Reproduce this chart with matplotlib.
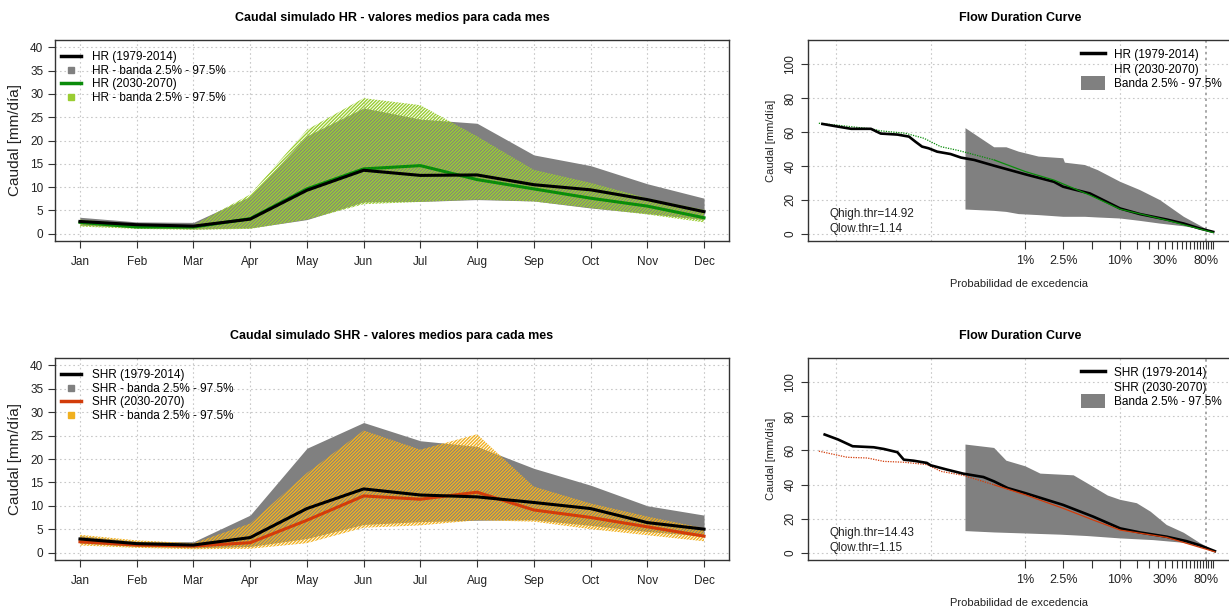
import matplotlib
matplotlib.use("Agg")
import matplotlib.pyplot as plt
from matplotlib.lines import Line2D
from matplotlib.patches import Patch
import numpy as np

plt.rcParams['font.family'] = ['Liberation Sans', 'DejaVu Sans']
plt.rcParams['hatch.linewidth'] = 1.0

# ---------------- data ----------------
months = ["Jan", "Feb", "Mar", "Apr", "May", "Jun", "Jul", "Aug", "Sep", "Oct", "Nov", "Dec"]

hr_hist = [2.6, 1.9, 1.6, 3.1, 9.3, 13.6, 12.5, 12.6, 10.5, 9.4, 7.3, 4.7]
hr_hist_lo = [1.8, 1.3, 1.0, 1.2, 3.0, 6.8, 6.9, 7.3, 7.0, 5.5, 4.3, 3.0]
hr_hist_hi = [3.5, 2.5, 2.4, 8.0, 21.0, 27.0, 24.6, 23.7, 16.9, 14.6, 10.7, 7.6]
hr_fut = [2.4, 1.4, 1.4, 3.2, 9.6, 13.9, 14.6, 11.6, 9.6, 7.6, 5.9, 3.4]
hr_fut_lo = [1.5, 1.0, 0.8, 1.0, 3.0, 6.3, 6.8, 7.3, 6.9, 5.5, 4.1, 2.4]
hr_fut_hi = [3.0, 2.0, 1.8, 8.4, 22.3, 29.1, 27.6, 20.9, 13.7, 10.9, 7.6, 5.1]

shr_hist = [2.9, 1.9, 1.6, 3.2, 9.4, 13.6, 12.3, 11.9, 10.7, 9.4, 6.4, 5.0]
shr_hist_lo = [2.0, 1.3, 1.0, 1.3, 3.0, 6.0, 6.6, 6.9, 7.0, 5.8, 4.5, 3.5]
shr_hist_hi = [3.6, 2.4, 2.3, 8.0, 22.3, 27.8, 23.9, 22.7, 18.0, 14.4, 10.0, 8.0]
shr_fut = [2.3, 1.6, 1.4, 2.1, 6.9, 12.1, 11.4, 12.9, 9.1, 7.5, 5.5, 3.5]
shr_fut_lo = [1.5, 1.0, 0.7, 0.8, 2.0, 5.3, 5.8, 6.9, 6.6, 5.0, 3.7, 2.4]
shr_fut_hi = [3.8, 2.6, 2.0, 6.2, 17.0, 26.1, 22.0, 25.3, 14.1, 10.5, 7.7, 5.2]

# flow duration curves (exceedance probability, flow)
fdc_hr_hist_p = [7.2e-5, 1.05e-4, 1.45e-4, 2.34e-4, 2.97e-4, 4.45e-4, 5.9e-4, 6.9e-4, 8.1e-4,
                 9.5e-4, 1.17e-3, 1.62e-3, 2.09e-3, 2.88e-3, 4.68e-3, 0.01, 0.02, 0.025,
                 0.048, 0.1, 0.162, 0.31, 0.47, 0.69, 0.96]
fdc_hr_hist_q = [64.8, 63.2, 61.9, 61.9, 59.1, 58.5, 57.3, 54.3, 51.4, 50.4, 48.4, 47.0, 44.9,
                 43.5, 40.1, 35.0, 30.6, 27.7, 23.7, 14.8, 11.5, 8.3, 5.9, 3.0, 1.0]
fdc_hr_fut_p = [6.6e-5, 2.34e-4, 2.97e-4, 5.4e-4, 8.5e-4, 1.27e-3, 2.0e-3, 4.68e-3, 0.01,
                0.02, 0.048, 0.1, 0.31, 0.96]
fdc_hr_fut_q = [65.2, 61.9, 60.7, 59.3, 56.3, 51.4, 49.0, 43.5, 36.6, 31.6, 22.7, 14.4, 7.9, 0.6]
band_hr_p = [2.33e-3, 4.68e-3, 6.3e-3, 8.5e-3, 0.0138, 0.0251, 0.0261, 0.0425, 0.058,
             0.1, 0.162, 0.263, 0.47, 0.83, 0.96]
band_hr_hi = [62.3, 51.0, 51.0, 48.4, 45.5, 44.5, 41.9, 40.5, 37.5, 30.6, 25.7, 19.8, 9.9, 2.4, 1.0]
band_hr_lo = [14.2, 13.4, 12.8, 11.5, 10.9, 9.9, 9.9, 9.9, 9.5, 8.9, 7.5, 5.9, 4.3, 2.0, 1.0]

fdc_shr_hist_p = [7.6e-5, 1.05e-4, 1.5e-4, 2.5e-4, 3.2e-4, 4.45e-4, 5.2e-4, 6.6e-4, 9.1e-4,
                  1.0e-3, 1.5e-3, 2.2e-3, 3.6e-3, 4.68e-3, 6.5e-3, 0.01, 0.025, 0.052,
                  0.1, 0.162, 0.31, 0.5, 0.69, 1.0]
fdc_shr_hist_q = [69.4, 66.5, 62.5, 61.9, 60.9, 59.0, 54.6, 54.0, 52.7, 51.3, 48.7, 46.4, 44.4,
                  41.8, 37.9, 34.9, 28.0, 21.1, 14.2, 11.8, 9.3, 6.7, 4.3, 0.8]
fdc_shr_fut_p = [6.6e-5, 1.32e-4, 2.14e-4, 3.2e-4, 5.2e-4, 9.1e-4, 1.29e-3, 2.2e-3, 4.68e-3,
                 0.01, 0.025, 0.052, 0.1, 0.31, 1.0]
fdc_shr_fut_q = [59.6, 56.0, 55.6, 53.6, 53.1, 51.7, 47.7, 45.4, 39.8, 33.9, 26.0, 19.1, 13.2, 8.9, 0.4]
band_shr_p_hi = [2.33e-3, 4.68e-3, 6.3e-3, 0.01, 0.0144, 0.0323, 0.0447, 0.0741, 0.1,
                 0.15, 0.21, 0.31, 0.47, 0.69, 1.0]
band_shr_hi = [63.5, 61.5, 54.0, 50.7, 46.4, 45.4, 40.8, 33.5, 31.0, 29.0, 24.0, 16.2, 11.6, 5.7, 0.8]
band_shr_p_lo = [2.33e-3, 4.68e-3, 0.01, 0.0234, 0.0447, 0.1, 0.224, 0.47, 1.0]
band_shr_lo = [12.6, 11.8, 11.2, 10.5, 9.7, 8.3, 7.3, 5.7, 0.8]

fdc_ticks = [0.01, 0.025, 0.05, 0.1, 0.15, 0.2, 0.25, 0.3, 0.35, 0.4, 0.45, 0.5, 0.55, 0.6,
             0.65, 0.7, 0.75, 0.8, 0.85, 0.9, 0.95]
fdc_labels = {0.01: "1%", 0.025: "2.5%", 0.1: "10%", 0.3: "30%", 0.8: "80%"}

# ---------------- styles ----------------
GRAY = '#808080'
GREEN = '#0a8c0a'
LGREEN = '#9acd32'
RED = '#d23c0a'
ORANGE = '#f0b020'
GRIDC = '#c8c8c8'

W, H = 1229, 607
fig = plt.figure(figsize=(W / 100, H / 100), dpi=100)


def px_axes(l, r, t, b):
    return fig.add_axes([l / W, 1 - b / H, (r - l) / W, (b - t) / H])


def style_box(ax):
    for s in ax.spines.values():
        s.set_color('#333333')
        s.set_linewidth(1.0)
    ax.tick_params(direction='out', length=5, width=0.8, colors='#333333', labelsize=8.5,
                   labelcolor='#222222')


def monthly(ax, title, name, hist, hlo, hhi, fut, flo, fhi, lcol, bcol):
    x = np.arange(1, 13)
    ax.set_xlim(0.56, 12.44)
    ax.set_ylim(-1.6, 41.6)
    ax.set_yticks(range(0, 41, 5))
    ax.set_xticks(x)
    ax.set_xticklabels(months)
    for v in range(0, 41, 5):
        ax.axhline(v, color=GRIDC, lw=0.8, ls=(0, (1.5, 2.5)), zorder=0)
    for v in x:
        ax.axvline(v, color=GRIDC, lw=0.8, ls=(0, (1.5, 2.5)), zorder=0)
    ax.fill_between(x, hlo, hhi, color=GRAY, lw=0, zorder=1)
    ax.fill_between(x, flo, fhi, facecolor='none', edgecolor=bcol, hatch='//////////',
                    lw=0, zorder=2)
    ax.plot(x, hist, color='black', lw=2.2, zorder=4)
    ax.plot(x, fut, color=lcol, lw=2.2, zorder=3)
    style_box(ax)
    ax.tick_params(axis='x', pad=6)
    ax.set_ylabel("Caudal [mm/día]", fontsize=11, labelpad=6, color='#222222')
    ax.set_title(title, fontsize=9, fontweight='bold', pad=14, x=0.5)
    handles = [Line2D([], [], color='black', lw=2.5),
               Line2D([], [], color=GRAY, marker='s', ls='none', markersize=5),
               Line2D([], [], color=lcol, lw=2.5),
               Line2D([], [], color=bcol, marker='s', ls='none', markersize=5)]
    labels = [f"{name} (1979-2014)", f"{name} - banda 2.5% - 97.5%",
              f"{name} (2030-2070)", f"{name} - banda 2.5% - 97.5%"]
    ax.legend(handles, labels, loc='upper left', frameon=False, fontsize=8.5,
              handlelength=1.7, handletextpad=0.9, labelspacing=0.15,
              borderaxespad=0.1, bbox_to_anchor=(0.0, 0.975))


def fdc(ax, name, hp, hq, fp, fq, bph, bhi, bpl, blo, fcol, qh, ql):
    ax.set_xscale('log')
    ax.set_xlim(10 ** -4.295, 10 ** 0.17)
    ax.set_ylim(-4.4, 114.4)
    ax.set_yticks(range(0, 101, 20))
    ax.set_yticklabels([str(v) for v in range(0, 101, 20)], rotation=90, va='center')
    for v in range(0, 101, 20):
        ax.axhline(v, color=GRIDC, lw=0.8, ls=(0, (1.5, 2.5)), zorder=0)
    for v in [1e-4, 1e-3, 1e-2, 1e-1]:
        ax.axvline(v, color=GRIDC, lw=0.8, ls=(0, (1.5, 2.5)), zorder=0)
    ax.axvline(0.8, color='#999999', lw=1.2, ls=(0, (1.5, 2)), zorder=0)
    bp = np.concatenate([bph, bpl[::-1]])
    bq = np.concatenate([bhi, blo[::-1]])
    ax.fill(bp, bq, color=GRAY, lw=0, zorder=1)
    fp = np.asarray(fp)
    fq = np.asarray(fq)
    k = int(np.searchsorted(fp, 4e-3))
    ax.plot(fp[:k + 1], fq[:k + 1], color=fcol, lw=0.9, ls=(0, (1, 1)), zorder=2)
    ax.plot(fp[k:], fq[k:], color=fcol, lw=0.9, zorder=3)
    ax.plot(hp, hq, color='black', lw=1.9, zorder=2.5)
    ax.set_xticks(fdc_ticks)
    ax.set_xticklabels([fdc_labels.get(t, "") for t in fdc_ticks])
    ax.xaxis.set_minor_locator(matplotlib.ticker.NullLocator())
    style_box(ax)
    ax.tick_params(axis='x', length=6, pad=4, labelsize=9)
    ax.tick_params(axis='y', labelsize=8.5)
    ax.set_ylabel("Caudal [mm/día]", fontsize=8, labelpad=6, color='#222222')
    ax.set_xlabel("Probabilidad de excedencia", fontsize=8, labelpad=9, color='#222222')
    ax.set_title("Flow Duration Curve", fontsize=9, fontweight='bold', pad=14,
                 x=(1020 - 808) / 423)
    ax.text(0.05, 0.134, f"Qhigh.thr={qh}", transform=ax.transAxes, fontsize=8.5,
            color='#222222', va='center')
    ax.text(0.05, 0.06, f"Qlow.thr={ql}", transform=ax.transAxes, fontsize=8.5,
            color='#222222', va='center')
    handles = [Line2D([], [], color='black', lw=2.5),
               Line2D([], [], color='none', lw=0),
               Patch(facecolor=GRAY, edgecolor='none')]
    labels = [f"{name} (1979-2014)", f"{name} (2030-2070)", "Banda 2.5% - 97.5%"]
    ax.legend(handles, labels, loc='upper left', frameon=False, fontsize=8.5,
              handlelength=2.0, handleheight=1.4, handletextpad=0.8, labelspacing=0.05,
              borderaxespad=0.0, bbox_to_anchor=(0.635, 0.985))


ax1 = px_axes(55, 729, 40, 241)
monthly(ax1, "Caudal simulado HR - valores medios para cada mes", "HR",
        hr_hist, hr_hist_lo, hr_hist_hi, hr_fut, hr_fut_lo, hr_fut_hi, GREEN, LGREEN)
ax2 = px_axes(55, 729, 358, 560)
monthly(ax2, "Caudal simulado SHR - valores medios para cada mes", "SHR",
        shr_hist, shr_hist_lo, shr_hist_hi, shr_fut, shr_fut_lo, shr_fut_hi, RED, ORANGE)
ax3 = px_axes(808, 1231, 40, 241)
fdc(ax3, "HR", fdc_hr_hist_p, fdc_hr_hist_q, fdc_hr_fut_p, fdc_hr_fut_q,
    band_hr_p, band_hr_hi, band_hr_p, band_hr_lo, GREEN, "14.92", "1.14")
ax4 = px_axes(808, 1231, 358, 560)
fdc(ax4, "SHR", fdc_shr_hist_p, fdc_shr_hist_q, fdc_shr_fut_p, fdc_shr_fut_q,
    band_shr_p_hi, band_shr_hi, band_shr_p_lo, band_shr_lo, RED, "14.43", "1.15")

fig.savefig("out.png", dpi=100)
